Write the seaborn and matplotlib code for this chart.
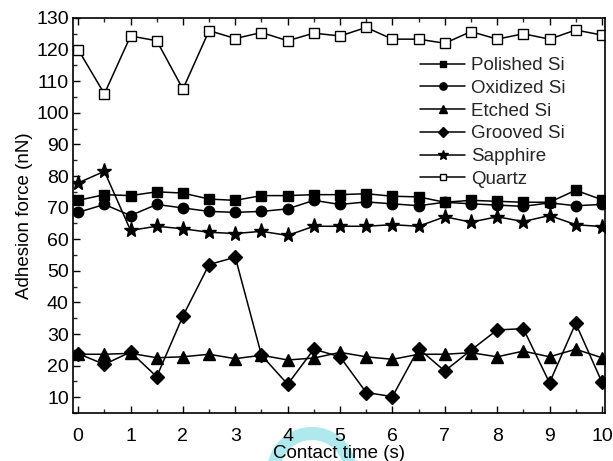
import numpy as np
import pandas as pd
import matplotlib
matplotlib.use("Agg")
import matplotlib.pyplot as plt
from matplotlib.patches import Wedge
import seaborn as sns

# Contact time (s)
contact_time = [0, 0.5, 1, 1.5, 2, 2.5, 3, 3.5, 4, 4.5, 5,
                5.5, 6, 6.5, 7, 7.5, 8, 8.5, 9, 9.5, 10]

# Adhesion force (nN) per substrate
polished_si = [72.3, 74.1, 73.8, 75.0, 74.6, 72.7, 72.3, 73.8, 73.8, 74.1, 74.1,
               74.4, 73.6, 73.4, 71.7, 72.3, 72.0, 71.7, 71.7, 75.5, 72.5]
oxidized_si = [68.5, 71.0, 67.5, 71.0, 69.9, 68.8, 68.5, 68.8, 69.6, 72.3, 71.0,
               71.8, 71.2, 70.6, 71.7, 71.2, 70.8, 70.4, 71.5, 70.6, 71.0]
etched_si = [23.6, 23.6, 23.9, 22.5, 22.8, 23.6, 22.2, 23.3, 21.8, 22.4, 24.2,
             22.8, 22.0, 23.6, 23.6, 24.1, 22.8, 24.6, 22.8, 25.2, 22.5]
grooved_si = [23.8, 20.4, 24.3, 16.5, 35.7, 52.0, 54.3, 23.3, 14.1, 25.2, 22.8,
              11.5, 10.2, 25.4, 18.3, 24.9, 31.3, 31.7, 14.6, 33.4, 14.8]
sapphire = [77.8, 81.5, 62.8, 64.1, 63.3, 62.2, 61.8, 62.5, 61.2, 64.1, 64.1,
            64.1, 64.6, 64.1, 67.1, 65.4, 67.1, 65.6, 67.5, 64.6, 64.0]
quartz = [120.0, 106.0, 124.3, 122.8, 107.5, 126.0, 123.5, 125.4, 122.8, 125.2, 124.3,
          127.0, 123.3, 123.3, 122.0, 125.7, 123.3, 125.0, 123.3, 126.2, 124.6]

series_names = ["Polished Si", "Oxidized Si", "Etched Si", "Grooved Si", "Sapphire", "Quartz"]
series_values = [polished_si, oxidized_si, etched_si, grooved_si, sapphire, quartz]

x_ticks = list(range(0, 11))
y_ticks = list(range(10, 131, 10))

sns.set_theme(style="ticks")
plt.rcParams["font.family"] = ["Liberation Sans", "DejaVu Sans"]
plt.rcParams["xtick.direction"] = "in"
plt.rcParams["ytick.direction"] = "in"

df = pd.DataFrame({
    "time": np.tile(contact_time, len(series_names)),
    "force": np.concatenate(series_values),
    "substrate": np.repeat(series_names, len(contact_time)),
})

marker_style = {
    "Polished Si": dict(marker="s", markersize=7, markerfacecolor="black"),
    "Oxidized Si": dict(marker="o", markersize=7.5, markerfacecolor="black"),
    "Etched Si": dict(marker="^", markersize=8, markerfacecolor="black"),
    "Grooved Si": dict(marker="D", markersize=7, markerfacecolor="black"),
    "Sapphire": dict(marker="*", markersize=11, markerfacecolor="black"),
    "Quartz": dict(marker="s", markersize=7, markerfacecolor="white"),
}

fig = plt.figure(figsize=(6.13, 4.61), dpi=100)
ax = fig.add_axes([0.119, 0.104, 0.868, 0.857])
ax.set_facecolor("none")

for name in series_names:
    sub = df[df["substrate"] == name]
    sns.lineplot(data=sub, x="time", y="force", ax=ax, color="black",
                 linewidth=1.1, markeredgecolor="black", markeredgewidth=1.0,
                 label=name, **marker_style[name])

ax.set_xlim(-0.1, 10.06)
ax.set_ylim(5, 130)
ax.set_xticks(x_ticks)
ax.set_yticks(y_ticks)
ax.set_xticks(np.arange(0.5, 10, 1), minor=True)
ax.set_yticks(np.arange(5, 130, 10), minor=True)
ax.tick_params(axis="both", which="major", length=5, width=1, labelsize=14,
               colors="black", top=True, right=False)
ax.tick_params(axis="both", which="minor", length=3, width=1, top=True, right=False)
ax.tick_params(axis="x", pad=11)
ax.tick_params(axis="y", pad=3)

for side in ["left", "right", "top", "bottom"]:
    ax.spines[side].set_visible(True)
    ax.spines[side].set_color("black")
    ax.spines[side].set_linewidth(1.2)

ax.set_xlabel("Contact time (s)", fontsize=13.5, color="black", labelpad=0)
ax.set_ylabel("Adhesion force (nN)", fontsize=13.5, color="black", labelpad=2)

leg = ax.legend(loc="upper right", bbox_to_anchor=(0.94, 0.92), frameon=False,
                fontsize=13.5, handlelength=2.4, markerscale=0.7,
                labelspacing=0.3, handletextpad=0.3, borderaxespad=0)

# light cyan ring mark under the x-axis title
ring = Wedge((3.12, -0.11), 0.45, 0, 180, width=0.13, facecolor="#aee9ed",
             edgecolor="none", transform=fig.dpi_scale_trans, zorder=-1)
fig.patches.append(ring)

fig.savefig("out.png", dpi=100)
